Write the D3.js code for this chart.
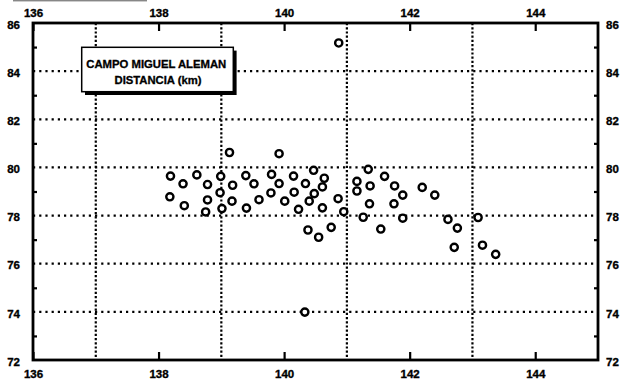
<!DOCTYPE html>
<html>
<head>
<meta charset="utf-8">
<script src="https://cdn.jsdelivr.net/npm/d3@7"></script>
<style>
  body { margin: 0; background: #fff; }
  svg { display: block; }
  .lbl text { font-family: "Liberation Sans", Arial, sans-serif; font-weight: bold; font-size: 11.5px; fill: #000; stroke: #000; stroke-width: 0.35px; }
</style>
</head>
<body>
<svg id="chart" width="623" height="380"></svg>
<script>
// Axis ticks and grid positions
const xLabelTicks = [136, 138, 140, 142, 144];
const xGridValues = [137, 139, 141, 143];
const yLabelTicks = [72, 74, 76, 78, 80, 82, 84, 86];
const yGridValues = [74, 76, 78, 80, 82, 84];
const yMinorTicks = [73, 75, 77, 79, 81, 83, 85];

// Observation positions (km)
const xKm = [
  140.87, 140.33, 139.13, 139.92, 138.19, 138.61, 138.99, 139.39, 139.80, 140.15,
  140.47, 138.39, 138.78, 139.18, 139.52, 139.92, 140.34, 138.98, 139.79, 140.16,
  140.48, 138.18, 138.78, 139.17, 139.60, 140.01, 140.40, 138.41, 139.01, 139.40,
  140.23, 138.75, 140.38, 140.55, 141.34, 140.64, 141.16, 141.60, 140.61, 141.37,
  141.76, 142.20, 142.40, 141.16, 141.89, 140.86, 141.36, 141.75, 140.95, 141.26,
  141.89, 142.61, 143.09, 140.75, 141.54, 142.76, 142.71, 143.16, 143.37, 140.61
];
const yKm = [
  85.17, 73.99, 80.62, 80.57, 79.64, 79.69, 79.63, 79.66, 79.71, 79.64,
  79.88, 79.32, 79.29, 79.26, 79.32, 79.33, 79.33, 78.95, 78.94, 78.97,
  78.91, 78.78, 78.65, 78.60, 78.66, 78.60, 78.60, 78.41, 78.29, 78.31,
  78.26, 78.15, 77.40, 77.10, 79.92, 79.55, 79.42, 79.63, 79.19, 79.23,
  79.23, 79.17, 78.85, 79.02, 78.85, 78.70, 78.49, 78.49, 78.16, 77.93,
  77.89, 77.84, 77.92, 77.51, 77.44, 77.48, 76.68, 76.77, 76.39, 78.32
];

const titleLines = ["CAMPO MIGUEL ALEMAN", "DISTANCIA (km)"];

const svg = d3.select("#chart");
const plotL = 33, plotR = 598, plotT = 23, plotB = 360;

const x = d3.scaleLinear().domain([136, 145]).range([plotL, plotR]);
const y = d3.scaleLinear().domain([72, 86]).range([plotB, plotT]);

// stray rule along the upper edge
svg.append("line")
  .attr("x1", 13).attr("x2", 147).attr("y1", 0.8).attr("y2", 0.8)
  .attr("stroke", "#555").attr("stroke-width", 1);

// dotted grid
const grid = svg.append("g").attr("stroke", "#000").attr("stroke-width", 2.2);
grid.selectAll("line.h").data(yGridValues).join("line")
  .attr("class", "h")
  .attr("x1", plotL).attr("x2", plotR)
  .attr("y1", d => y(d)).attr("y2", d => y(d))
  .attr("stroke-dasharray", "2.2,4");
grid.selectAll("line.v").data(xGridValues).join("line")
  .attr("class", "v")
  .attr("x1", d => x(d)).attr("x2", d => x(d))
  .attr("y1", plotT).attr("y2", plotB)
  .attr("stroke-dasharray", "2.2,2");

// axes: labelled ticks and minor inward ticks
function styleAxis(g) {
  g.select(".domain").remove();
  g.selectAll(".tick line").attr("stroke", "#000").attr("stroke-width", 2.2);
}
svg.append("g").attr("class", "lbl").attr("transform", `translate(0,${plotT})`)
  .call(d3.axisTop(x).tickValues(xLabelTicks).tickFormat(d3.format("d")).tickSize(-8).tickPadding(6))
  .call(styleAxis);
svg.append("g").attr("class", "lbl").attr("transform", `translate(0,${plotB})`)
  .call(d3.axisBottom(x).tickValues(xLabelTicks).tickFormat(d3.format("d")).tickSize(-8).tickPadding(9.5))
  .call(styleAxis);
svg.append("g").attr("class", "lbl").attr("transform", `translate(${plotL},0)`)
  .call(d3.axisLeft(y).tickValues(yLabelTicks).tickFormat(d3.format("d")).tickSize(0).tickPadding(13))
  .call(styleAxis)
  .selectAll("text").attr("dy", "0.45em");
svg.append("g").attr("class", "lbl").attr("transform", `translate(${plotR},0)`)
  .call(d3.axisRight(y).tickValues(yLabelTicks).tickFormat(d3.format("d")).tickSize(0).tickPadding(8))
  .call(styleAxis)
  .selectAll("text").attr("dy", "0.45em");
svg.append("g").attr("transform", `translate(${plotL},0)`)
  .call(d3.axisLeft(y).tickValues(yMinorTicks).tickFormat("").tickSize(-4))
  .call(styleAxis);
svg.append("g").attr("transform", `translate(${plotR},0)`)
  .call(d3.axisRight(y).tickValues(yMinorTicks).tickFormat("").tickSize(-4))
  .call(styleAxis);

// frame
svg.append("rect")
  .attr("x", plotL).attr("y", plotT)
  .attr("width", plotR - plotL).attr("height", plotB - plotT)
  .attr("fill", "none").attr("stroke", "#000").attr("stroke-width", 2.8);

// title box with drop shadow
const box = { x: 81.7, y: 47.3, w: 151.6, h: 44.4, off: 3.3 };
svg.append("rect")
  .attr("x", box.x + box.off).attr("y", box.y + box.off)
  .attr("width", box.w).attr("height", box.h).attr("fill", "#000");
svg.append("rect")
  .attr("x", box.x).attr("y", box.y)
  .attr("width", box.w).attr("height", box.h)
  .attr("fill", "#fff").attr("stroke", "#000").attr("stroke-width", 1.5);
const titleLayout = [
  { cx: 156.3, base: 68.3, len: 140 },
  { cx: 158, base: 84.3, len: 87 }
];
svg.append("g").selectAll("text").data(titleLines).join("text")
  .attr("x", (d, i) => titleLayout[i].cx)
  .attr("y", (d, i) => titleLayout[i].base)
  .attr("text-anchor", "middle")
  .attr("textLength", (d, i) => titleLayout[i].len)
  .attr("lengthAdjust", "spacingAndGlyphs")
  .attr("font-family", "'Liberation Sans', Arial, sans-serif")
  .attr("font-weight", "bold")
  .attr("font-size", 10.5)
  .attr("stroke", "#000")
  .attr("stroke-width", 0.3)
  .text(d => d);

// observations
svg.append("g").selectAll("circle").data(xKm.map((v, i) => [v, yKm[i]])).join("circle")
  .attr("cx", d => x(d[0]))
  .attr("cy", d => y(d[1]))
  .attr("r", 3.6)
  .attr("fill", "#fff")
  .attr("stroke", "#000")
  .attr("stroke-width", 2.4);
</script>
</body>
</html>
